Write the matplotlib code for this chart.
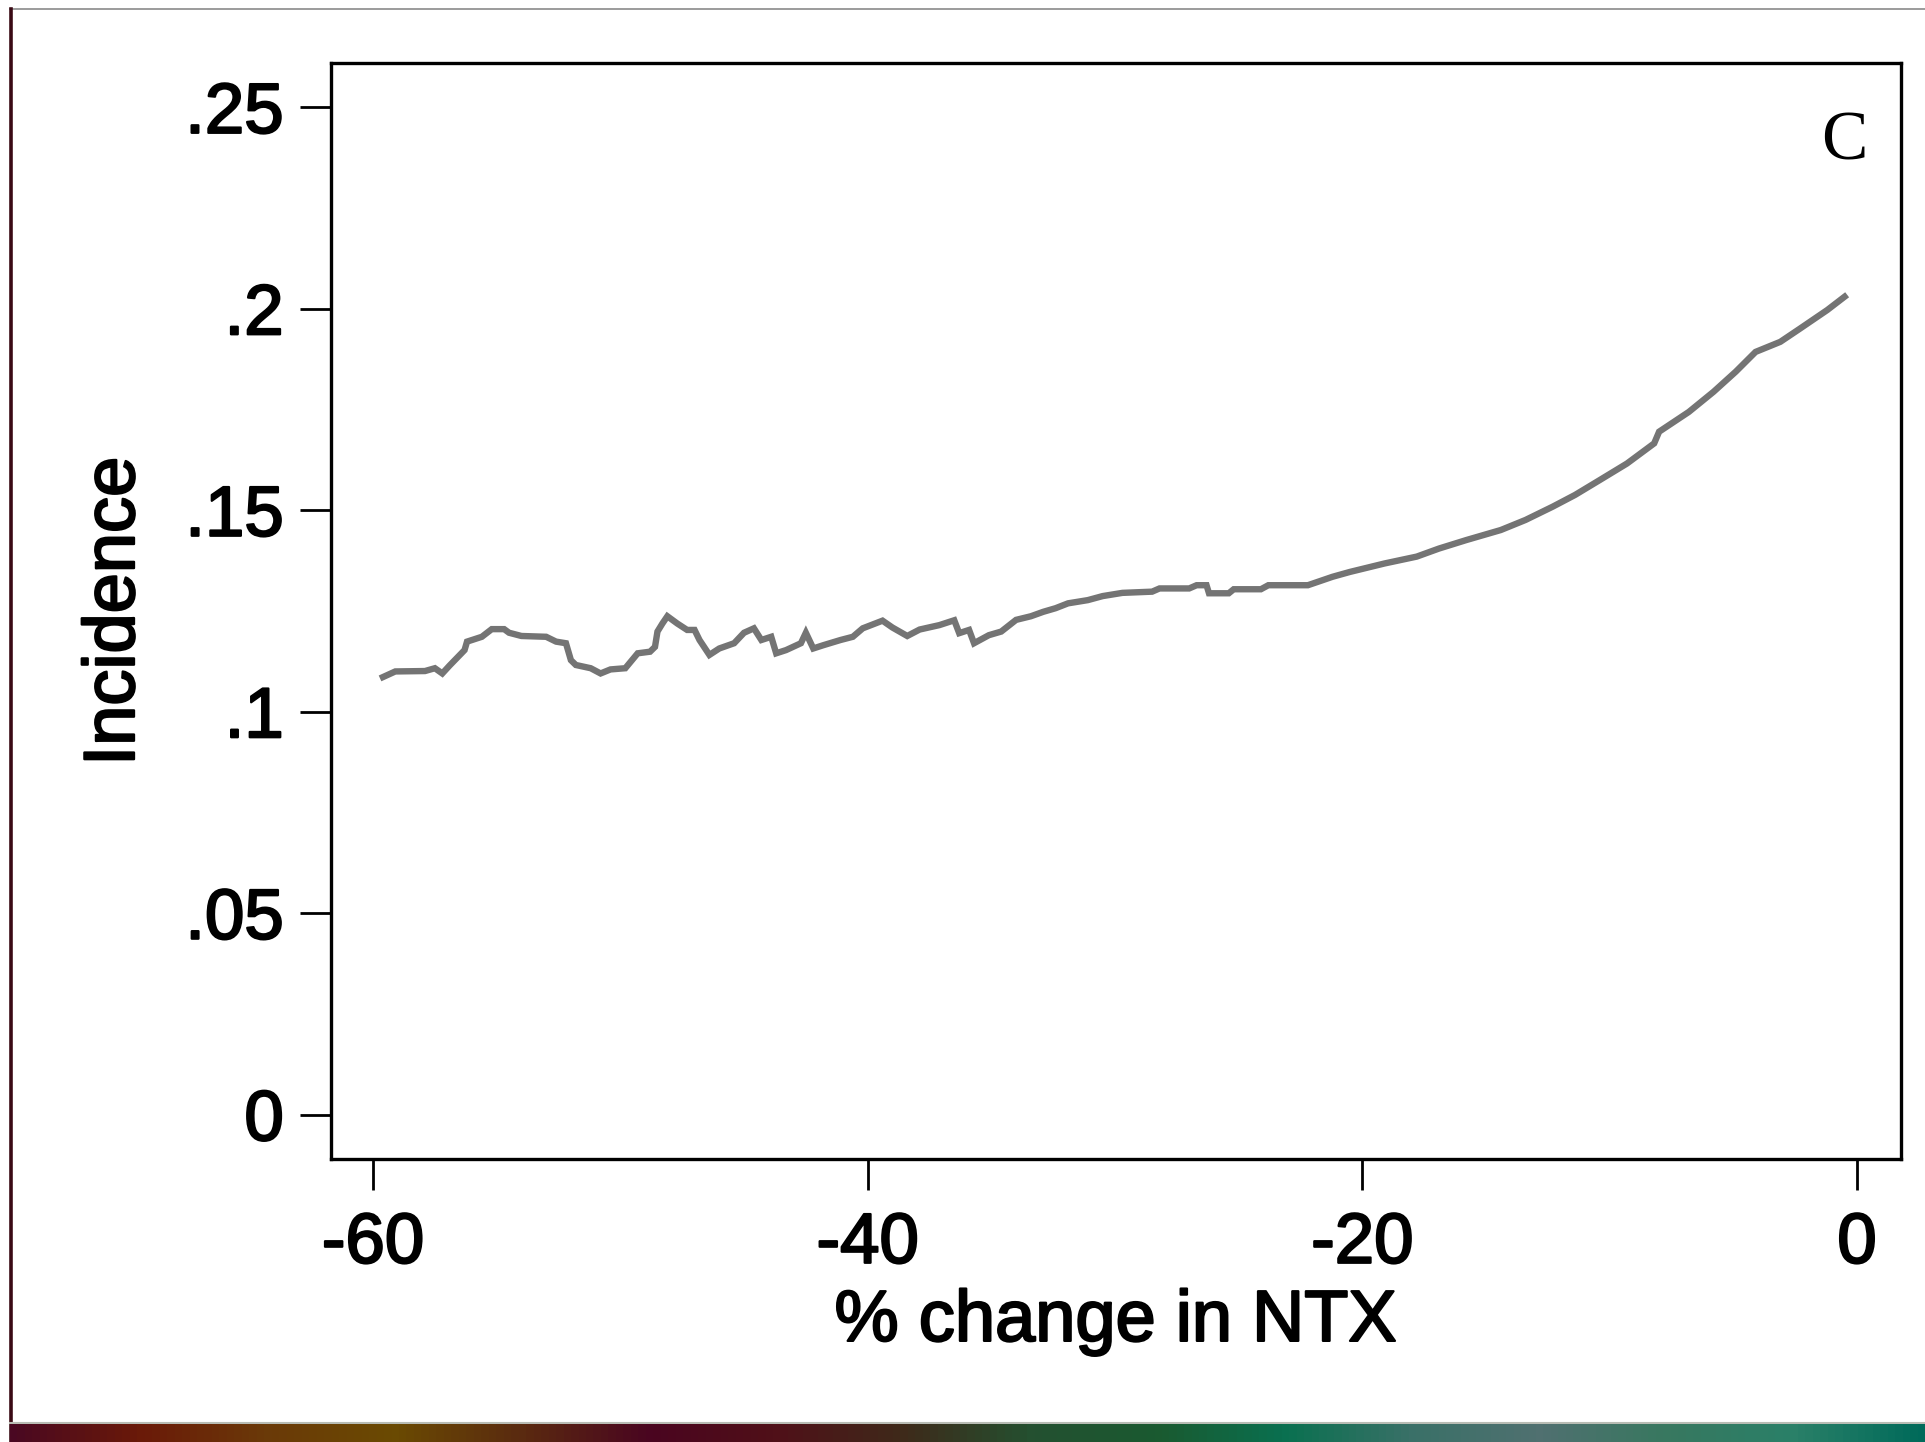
import matplotlib
matplotlib.use("Agg")
import matplotlib.pyplot as plt
import matplotlib.patheffects as pe
import numpy as np
from matplotlib.colors import LinearSegmentedColormap

# Smoothed incidence against percentage change in NTX
pct_change = [
    -59.6, -59.1, -57.9, -57.5, -57.2, -56.9, -56.3, -56.2, -55.6, -55.2,
    -54.7, -54.5, -54.0, -53.0, -52.6, -52.2, -52.0, -51.8, -51.2, -50.8,
    -50.4, -49.8, -49.3, -48.8, -48.6, -48.5, -48.3, -48.1, -47.7, -47.3,
    -47.0, -46.8, -46.4, -46.0, -45.4, -45.0, -44.6, -44.3, -43.9, -43.7,
    -43.3, -42.7, -42.5, -42.2, -41.8, -41.1, -40.6, -40.2, -39.4, -39.0,
    -38.4, -37.9, -37.1, -36.5, -36.3, -35.9, -35.7, -35.1, -34.6, -34.0,
    -33.4, -32.9, -32.4, -31.9, -31.1, -30.5, -29.7, -28.5, -28.2, -27.0,
    -26.7, -26.3, -26.2, -25.4, -25.2, -24.1, -23.8, -22.2, -21.2, -20.5,
    -19.1, -17.8, -16.9, -15.8, -14.4, -13.4, -12.3, -11.4, -10.4, -9.3,
    -8.2, -8.0, -6.8, -5.8, -4.9, -4.1, -3.1, -2.3, -1.2, -0.5,
]
incidence = [
    0.1086, 0.1100, 0.1101, 0.1108, 0.1095, 0.1115, 0.1153, 0.1174, 0.1186, 0.1205,
    0.1205, 0.1196, 0.1188, 0.1186, 0.1174, 0.1170, 0.1128, 0.1116, 0.1108, 0.1095,
    0.1105, 0.1108, 0.1145, 0.1149, 0.1161, 0.1199, 0.1219, 0.1237, 0.1219, 0.1203,
    0.1203, 0.1178, 0.1141, 0.1157, 0.1170, 0.1196, 0.1207, 0.1178, 0.1186, 0.1145,
    0.1153, 0.1170, 0.1196, 0.1157, 0.1165, 0.1178, 0.1186, 0.1207, 0.1226, 0.1209,
    0.1188, 0.1204, 0.1215, 0.1227, 0.1195, 0.1203, 0.1170, 0.1190, 0.1199, 0.1228,
    0.1237, 0.1248, 0.1257, 0.1269, 0.1277, 0.1287, 0.1295, 0.1298, 0.1306, 0.1306,
    0.1314, 0.1314, 0.1294, 0.1294, 0.1304, 0.1304, 0.1314, 0.1314, 0.1335, 0.1347,
    0.1368, 0.1385, 0.1405, 0.1426, 0.1451, 0.1476, 0.1509, 0.1538, 0.1575, 0.1616,
    0.1666, 0.1695, 0.1744, 0.1794, 0.1844, 0.1893, 0.1918, 0.1951, 0.1997, 0.2030,
]

x_ticks = [-60, -40, -20, 0]
x_tick_labels = ["-60", "-40", "-20", "0"]
y_ticks = [0, 0.05, 0.10, 0.15, 0.20, 0.25]
y_tick_labels = ["0", ".05", ".1", ".15", ".2", ".25"]

# Colours of the slide strip along the bottom edge
strip_colors = ["#4a0822", "#6a1a08", "#6a3a08", "#6a4a02", "#5a2a10", "#4a0520",
                "#501018", "#3e2a1a", "#245030", "#1a5a30", "#0a7050", "#3a7068",
                "#507070", "#387860", "#2a8068", "#006a5a"]

plt.rcParams["font.family"] = ["Liberation Sans", "DejaVu Sans"]

# Slightly heavier strokes for the axis text
heavy = [pe.withStroke(linewidth=1.6, foreground="black")]

fig = plt.figure(figsize=(19.25, 14.42), dpi=100)
fig.patch.set_facecolor("white")

# Slide frame: thin top rule, dark left edge and coloured bottom strip
frame = fig.add_axes([0, 0, 1, 1], zorder=-5)
frame.set_xlim(0, 1925)
frame.set_ylim(1442, 0)
frame.axis("off")
frame.plot([10, 1925], [9, 9], color="#8a8a8a", lw=1.2)
frame.plot([11, 11], [9, 1442], color="#3a0a14", lw=2.6)
frame.plot([10, 1925], [1423, 1423], color="#b8bcb4", lw=1.5)

strip = fig.add_axes([10 / 1925, 0, 1 - 10 / 1925, 18 / 1442], zorder=-4)
cmap = LinearSegmentedColormap.from_list("strip", strip_colors)
strip.imshow(np.linspace(0, 1, 512)[None, :], aspect="auto", cmap=cmap)
strip.axis("off")

ax = fig.add_axes([331 / 1925, 1 - 1159 / 1442, (1901 - 331) / 1925, (1159 - 63) / 1442])
ax.plot(pct_change, incidence, color="#747474", lw=4.6, solid_joinstyle="miter")

ax.set_xlim(-61.7, 1.78)
ax.set_ylim(-0.011, 0.261)
ax.set_xticks(x_ticks)
ax.set_xticklabels(x_tick_labels)
ax.set_yticks(y_ticks)
ax.set_yticklabels(y_tick_labels)

for s in ax.spines.values():
    s.set_linewidth(2.4)
    s.set_color("black")

ax.tick_params(axis="both", direction="out", length=22, width=2, labelsize=51,
               color="black", labelcolor="black")
ax.tick_params(axis="x", pad=16)
ax.tick_params(axis="y", pad=12)
for lbl in ax.get_xticklabels() + ax.get_yticklabels():
    lbl.set_path_effects(heavy)

ax.set_xlabel("% change in NTX", fontsize=52, labelpad=8, path_effects=heavy)
ax.set_ylabel("Incidence", fontsize=52, labelpad=26, path_effects=heavy)

ax.text(0.9637, 0.927, "C", transform=ax.transAxes, ha="center", va="center",
        fontsize=50, family=["Liberation Serif", "DejaVu Serif"])

fig.savefig("out.png", dpi=100, facecolor="white")
